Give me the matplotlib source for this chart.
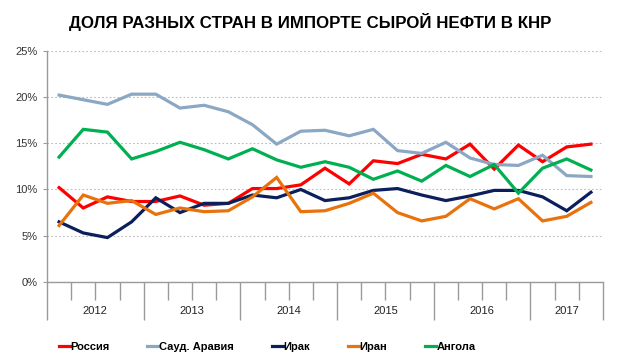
import matplotlib
matplotlib.use("Agg")
import matplotlib.pyplot as plt
import matplotlib.transforms as mtransforms
from matplotlib import font_manager
import numpy as np

# Quarterly shares, 2012 Q1 .. 2017 Q3 (percent)
years = ["2012", "2013", "2014", "2015", "2016", "2017"]
quarters_per_year = [4, 4, 4, 4, 4, 3]

russia = [10.2, 8.0, 9.2, 8.7, 8.7, 9.3, 8.3, 8.5, 10.1, 10.1, 10.5, 12.3,
          10.6, 13.1, 12.8, 13.8, 13.3, 14.9, 12.2, 14.8, 13.0, 14.6, 14.9]
saudi = [20.2, 19.7, 19.2, 20.3, 20.3, 18.8, 19.1, 18.4, 17.0, 14.9, 16.3, 16.4,
         15.8, 16.5, 14.2, 13.9, 15.1, 13.4, 12.7, 12.6, 13.7, 11.5, 11.4]
iraq = [6.5, 5.3, 4.8, 6.5, 9.1, 7.5, 8.5, 8.5, 9.4, 9.1, 10.0, 8.8,
        9.1, 9.9, 10.1, 9.4, 8.8, 9.3, 9.9, 9.9, 9.2, 7.7, 9.7]
iran = [6.1, 9.4, 8.5, 8.8, 7.3, 8.0, 7.6, 7.7, 9.2, 11.3, 7.6, 7.7,
        8.5, 9.6, 7.5, 6.6, 7.1, 9.0, 7.9, 9.0, 6.6, 7.1, 8.6]
angola = [13.5, 16.5, 16.2, 13.3, 14.1, 15.1, 14.3, 13.3, 14.4, 13.2, 12.4, 13.0,
          12.4, 11.1, 12.0, 10.9, 12.6, 11.4, 12.7, 9.6, 12.3, 13.3, 12.1]

series = [
    ("Россия", russia, "#FF0000"),
    ("Сауд. Аравия", saudi, "#8AA7C4"),
    ("Ирак", iraq, "#0A1F5C"),
    ("Иран", iran, "#E8720C"),
    ("Ангола", angola, "#00B050"),
]

plt.rcParams["font.family"] = ["Liberation Sans", "DejaVu Sans"]


def pick_narrow():
    # use a condensed face for the legend if one is installed
    for fam in ["Liberation Sans Narrow", "DejaVu Sans Condensed"]:
        try:
            font_manager.findfont(fam, fallback_to_default=False)
            return fam, 9
        except ValueError:
            pass
    return "Liberation Sans", 8


legend_family, legend_size = pick_narrow()

fig = plt.figure(figsize=(6.2, 3.58), dpi=100)
ax = fig.add_axes([0.0758, 0.2123, 0.8968, 0.6461])

n = len(russia)
x = np.arange(n)
for name, values, color in series:
    ax.plot(x, values, color=color, lw=2.3, label=name, solid_joinstyle="miter")

ax.set_xlim(-0.5, n - 0.5)
ax.set_ylim(0, 25)
ax.set_yticks(np.arange(0, 26, 5))
ax.set_yticklabels([f"{v}%" for v in range(0, 26, 5)], fontsize=8, color="#333333")
ax.yaxis.grid(True, linestyle=(0, (1.5, 2)), color="#BBBBBB", lw=0.8)
ax.set_axisbelow(True)

for side in ["top", "right"]:
    ax.spines[side].set_visible(False)
for side in ["left", "bottom"]:
    ax.spines[side].set_color("#9A9A9A")
    ax.spines[side].set_linewidth(1.0)
ax.tick_params(axis="y", length=3, color="#9A9A9A", pad=4)

# category ticks: long at year boundaries, short at quarter boundaries
bounds = np.cumsum([0] + quarters_per_year) - 0.5
ax.set_xticks(bounds)
ax.set_xticklabels([])
ax.set_xticks(np.arange(-0.5, n, 1.0), minor=True)
ax.tick_params(axis="x", which="major", length=27, color="#9A9A9A", width=1.0)
ax.tick_params(axis="x", which="minor", length=13, color="#9A9A9A", width=1.0)

trans = mtransforms.blended_transform_factory(ax.transData, fig.transFigure)
for i, yr in enumerate(years):
    center = (bounds[i] + bounds[i + 1]) / 2
    ax.text(center, 1 - 311 / 358, yr, transform=trans, ha="center", va="center",
            fontsize=8, color="#222222")

fig.suptitle("ДОЛЯ РАЗНЫХ СТРАН В ИМПОРТЕ СЫРОЙ НЕФТИ В КНР", y=1 - 22 / 358,
             va="center", fontsize=12.2, fontweight="bold")

fig.legend(loc="center", bbox_to_anchor=(0.431, 11 / 358), ncol=5, frameon=False,
           handlelength=1.0, handletextpad=0.05, columnspacing=3.4,
           prop={"family": [legend_family, "DejaVu Sans"],
                 "weight": "bold", "size": legend_size})

fig.savefig("out.png", dpi=100)
